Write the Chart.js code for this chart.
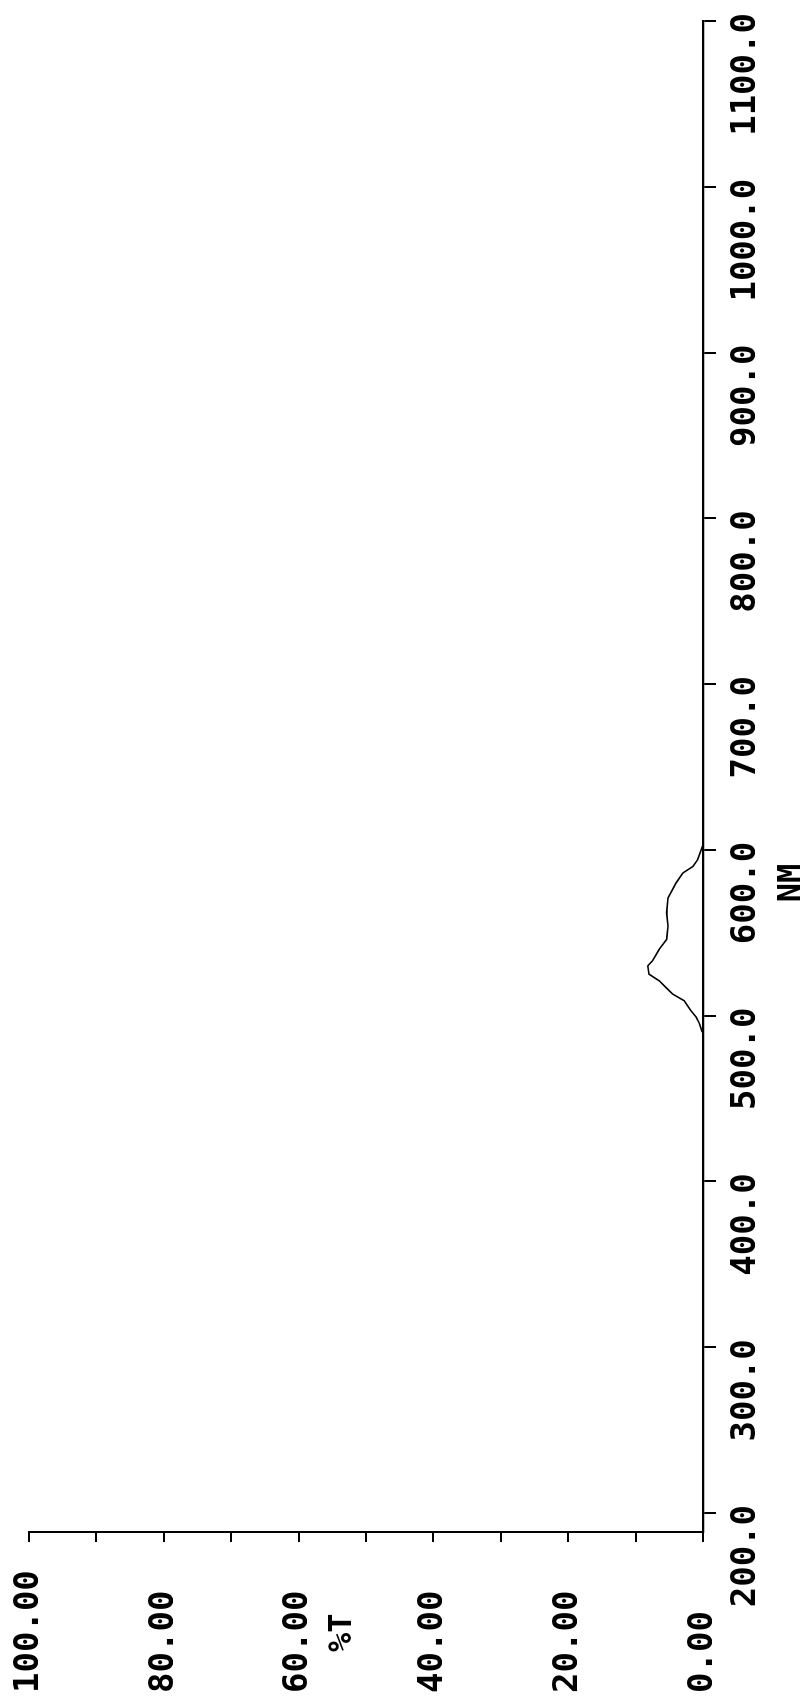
<!DOCTYPE html>
<html>
<head>
<meta charset="utf-8">
<title>%T vs NM</title>
<script src="https://cdn.jsdelivr.net/npm/chart.js@4.4.0/dist/chart.umd.min.js"></script>
<style>
  html, body { margin: 0; padding: 0; background: #fff; overflow: hidden; width: 811px; height: 1707px; }
  /* chart is drawn landscape, then turned a quarter left like the printout */
  #wrap {
    position: absolute; left: 0; top: 0;
    width: 1707px; height: 811px;
    transform-origin: 0 0;
    transform: translate(0, 1707px) rotate(-90deg);
  }
  #spectrum { display: block; }
</style>
</head>
<body>
<div id="wrap"><canvas id="spectrum" width="1707" height="811"></canvas></div>

<script>
// === DATA ===
var nmTicks = [200, 300, 400, 500, 600, 700, 800, 900, 1000, 1100];
var tTicks = [0, 10, 20, 30, 40, 50, 60, 70, 80, 90, 100];

// transmission band (wavelength in nm, %T)
var nmValues = [490, 495, 499, 503, 509, 513, 517, 521, 525, 530, 533, 540, 546, 554, 562, 571, 580, 586, 590, 594, 603];
var tValues  = [0.1, 0.5, 1.0, 1.8, 2.8, 4.5, 5.5, 6.5, 8.0, 8.2, 7.5, 6.5, 5.4, 5.2, 5.4, 5.2, 4.0, 3.0, 1.5, 0.8, 0.0];

var xTitle = 'NM';
var yTitle = '%T';

var FONT = '"DejaVu Sans Mono", "Liberation Mono", monospace';
var INK = '#000';

// === AXIS TITLES ===
// The printer puts them at odd spots, not centred on the axes.
var axisTitles = {
  id: 'axisTitles',
  afterDraw: function(chart) {
    var ctx = chart.ctx;
    var xs = chart.scales.x, ys = chart.scales.y;
    ctx.save();
    ctx.fillStyle = INK;
    ctx.font = 'bold 32px ' + FONT;
    ctx.textBaseline = 'middle';

    ctx.textAlign = 'center';
    ctx.fillText(xTitle, xs.getPixelForValue(580), 792);

    ctx.textAlign = 'left';
    ctx.fillText(yTitle, 55, ys.getPixelForValue(53.5));
    ctx.restore();
  }
};

var points = nmValues.map(function(nm, i) { return { x: nm, y: tValues[i] }; });

new Chart(document.getElementById('spectrum'), {
  type: 'line',
  data: {
    datasets: [{
      data: points,
      borderColor: INK,
      borderWidth: 1.6,
      pointRadius: 0,
      tension: 0,
      fill: false
    }]
  },
  options: {
    responsive: false,
    animation: false,
    layout: { padding: { left: 14, right: 21, top: 29, bottom: 0 } },
    plugins: { legend: { display: false }, tooltip: { enabled: false } },
    scales: {
      x: {
        type: 'linear',
        min: 188.5, max: 1100,
        afterBuildTicks: function(scale) { scale.ticks = nmTicks.map(function(v) { return { value: v }; }); },
        afterFit: function(scale) { scale.height = 108; scale.paddingLeft = 0; scale.paddingRight = 0; },
        border: { display: true, color: INK, width: 2.2, dash: [12, 3] },
        grid: { display: true, drawOnChartArea: false, drawTicks: true, tickLength: 13, color: INK, lineWidth: 2 },
        ticks: {
          autoSkip: false, minRotation: 0, maxRotation: 0,
          align: 'end', labelOffset: 8, padding: 10,
          color: INK, font: { family: FONT, size: 34, weight: 'bold' },
          callback: function(v) { return Number(v).toFixed(1); }
        }
      },
      y: {
        type: 'linear',
        min: 0, max: 100,
        afterBuildTicks: function(scale) { scale.ticks = tTicks.map(function(v) { return { value: v }; }); },
        afterFit: function(scale) { scale.width = 161; scale.paddingTop = 0; scale.paddingBottom = 0; },
        border: { display: true, color: INK, width: 2 },
        grid: { display: true, drawOnChartArea: false, drawTicks: true, tickLength: 10, color: INK, lineWidth: 2 },
        ticks: {
          autoSkip: false, crossAlign: 'far', padding: 6,
          color: INK, font: { family: FONT, size: 34, weight: 'bold' },
          // only every other tick carries a number
          callback: function(v) { return v % 20 === 0 ? Number(v).toFixed(2) : ''; }
        }
      }
    }
  },
  plugins: [axisTitles]
});
</script>
</body>
</html>
